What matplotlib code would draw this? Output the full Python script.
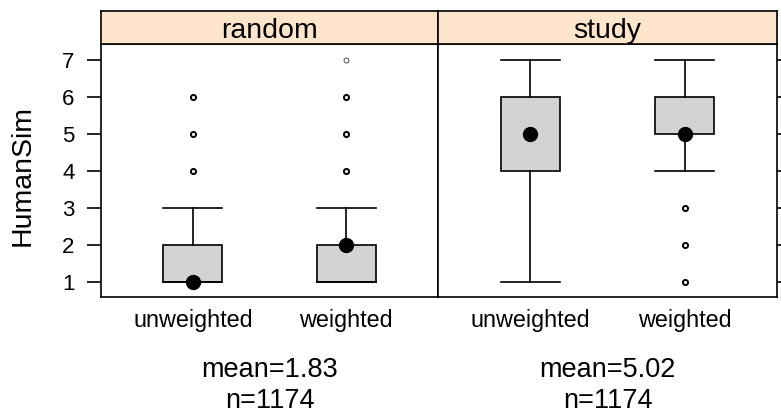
import matplotlib
matplotlib.use("Agg")
import matplotlib.pyplot as plt

plt.rcParams["font.family"] = ["Liberation Sans", "DejaVu Sans"]

PANELS = ["random", "study"]
GROUPS = ["unweighted", "weighted"]

# five-number summaries per panel/group: (whisker low, q1, median, q3, whisker high)
STATS = {
    "random": [(1, 1, 1, 2, 3), (1, 1, 2, 2, 3)],
    "study": [(1, 4, 5, 6, 7), (4, 5, 5, 6, 7)],
}
OUTLIERS = {
    "random": [[4, 5, 6], [4, 5, 6]],
    "study": [[], [1, 2, 3]],
}
# single observations, drawn with a lighter ring
LONE_OUTLIERS = {
    "random": [[], [7]],
    "study": [[], []],
}
MEANS = {"random": 1.83, "study": 5.02}
COUNTS = {"random": 1174, "study": 1174}
YTICKS = [1, 2, 3, 4, 5, 6, 7]

W, H = 781, 413
STRIP_BG = "#FFE5CC"
BOX_FILL = "#D3D3D3"
LW = 1.2

fig = plt.figure(figsize=(W / 100, H / 100), dpi=100)

px0, px1, pmid = 101, 777, 438
ybot, ytop, strip_top = 297, 44, 11
edges = [(px0, pmid), (pmid, px1)]

for k, (panel, (x0, x1)) in enumerate(zip(PANELS, edges)):
    ax = fig.add_axes([x0 / W, (H - ybot) / H, (x1 - x0) / W, (ybot - ytop) / H])
    stats = []
    for g, (lo, q1, med, q3, hi) in zip(GROUPS, STATS[panel]):
        stats.append(dict(whislo=lo, q1=q1, med=med, q3=q3, whishi=hi, fliers=[], label=g))
    ax.bxp(stats, positions=[1, 2], widths=0.385, capwidths=0.385, showfliers=False,
           patch_artist=True,
           boxprops=dict(facecolor=BOX_FILL, edgecolor="black", linewidth=LW),
           whiskerprops=dict(color="black", linewidth=LW, linestyle="-"),
           capprops=dict(color="black", linewidth=LW),
           medianprops=dict(linewidth=0))
    for i, (s, lone) in enumerate(zip(OUTLIERS[panel], LONE_OUTLIERS[panel])):
        if s:
            ax.plot([i + 1] * len(s), s, "o", ms=3.7, mfc="white", mec="black", mew=1.4, zorder=4)
        if lone:
            ax.plot([i + 1] * len(lone), lone, "o", ms=3.6, mfc="white", mec="#333333", mew=0.6, zorder=4)
    meds = [st[2] for st in STATS[panel]]
    ax.plot([1, 2], meds, "o", ms=10, color="black", zorder=5)

    ax.set_xlim(0.4, 2.6)
    ax.set_ylim(0.595, 7.43)
    ax.set_xticks([1, 2], GROUPS)
    ax.tick_params(axis="x", length=0, pad=8.5, labelsize=16.8)
    ax.set_yticks(YTICKS)
    for sp in ax.spines.values():
        sp.set_linewidth(LW)
    if k == 0:
        ax.tick_params(axis="y", direction="out", length=10, width=LW, labelsize=16, pad=9)
    else:
        ax.tick_params(axis="y", direction="out", length=10, width=LW,
                       left=False, labelleft=False, right=True, labelright=False)

    # strip with panel name
    sx = fig.add_axes([x0 / W, (H - ytop) / H, (x1 - x0) / W, (ytop - strip_top) / H])
    sx.set_facecolor(STRIP_BG)
    sx.set_xticks([])
    sx.set_yticks([])
    for sp in sx.spines.values():
        sp.set_linewidth(LW)
    sx.text(0.5, (ytop - 38) / (ytop - strip_top), panel, ha="center", va="baseline",
            fontsize=20.5, transform=sx.transAxes)

    cx = (x0 + x1) / 2 / W
    fig.text(cx, (H - 377) / H, f"mean={MEANS[panel]:.2f}", ha="center", va="baseline", fontsize=19.5)
    fig.text(cx, (H - 408) / H, f"n={COUNTS[panel]}", ha="center", va="baseline", fontsize=19.5)

fig.text(23 / W, (H - 175) / H, "HumanSim", rotation=90, ha="center", va="center", fontsize=20.5)

fig.savefig("out.png", dpi=100, facecolor="white")
